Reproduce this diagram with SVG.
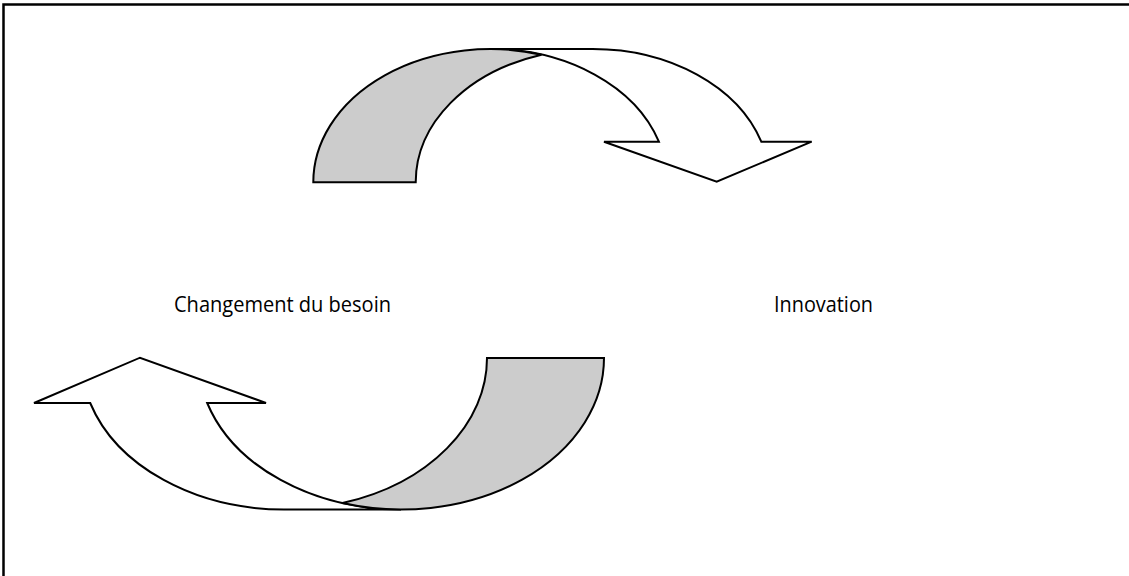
<svg xmlns="http://www.w3.org/2000/svg" width="1129" height="576" viewBox="0 0 1129 576">
<style>
.shape{stroke:#000;stroke-width:2;stroke-linejoin:miter}
.white{fill:#fff}
.gray{fill:#cccccc}
.lbl{font-family:"Open Sans","Noto Sans","Liberation Sans",sans-serif;font-size:21px;fill:#000}
.frame{stroke:#000;stroke-width:2.5;fill:none}
</style>
<rect width="1129" height="576" fill="#fff"/>
<path class="frame" d="M3.5 576 L3.5 4.5 L1129 4.5"/>
<g id="connectors">
<g id="arrow-top">
<path class="shape white" d="M490.3 49 L592.7 49 A177 133.3 0 0 1 761.3 141.7 L811.7 141.7 L716.7 181.7 L604 141.7 L658.9 141.7 A177 133.3 0 0 0 490.3 49 Z"/>
<path class="shape gray" d="M313.3 182.3 A177 133.3 0 0 1 541.5 54.7 A177 133.3 0 0 0 415.7 182.3 Z"/>
</g>
<g id="arrow-bottom">
<path class="shape white" d="M401 509.5 L284 509.5 A203 151.5 0 0 1 90.2 403 L34 403 L140 357.7 L266 403 L207.2 403 A203 151.5 0 0 0 401 509.5 Z"/>
<path class="shape gray" d="M604 358 A203 151.5 0 0 1 342.5 503.1 A203 151.5 0 0 0 487 358 Z"/>
</g>
</g>
<g id="node-changement">
<text class="lbl" x="174" y="312" textLength="217" lengthAdjust="spacingAndGlyphs">Changement du besoin</text>
</g>
<g id="node-innovation">
<text class="lbl" x="774" y="312" textLength="99" lengthAdjust="spacingAndGlyphs">Innovation</text>
</g>
</svg>
